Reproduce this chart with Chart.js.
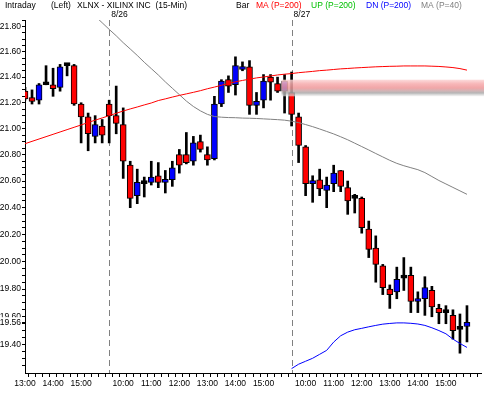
<!DOCTYPE html>
<html>
<head>
<meta charset="utf-8">
<script src="https://cdn.jsdelivr.net/npm/chart.js@4.4.1/dist/chart.umd.min.js"></script>
<style>
  html, body { margin: 0; padding: 0; background: #fff; }
  #wrap { position: relative; width: 484px; height: 393px; }
</style>
</head>
<body>
<div id="wrap"><canvas id="chart" width="484" height="393"></canvas></div>
<script>
(function () {
  'use strict';

  // 15-min bars, 8/25 13:00 .. 8/27 15:45
  var TIMES = [
    '13:00', '13:15', '13:30', '13:45', '14:00', '14:15', '14:30', '14:45', '15:00', '15:15', '15:30', '15:45',
    '9:30', '9:45', '10:00', '10:15', '10:30', '10:45', '11:00', '11:15', '11:30', '11:45', '12:00', '12:15', '12:30',
    '12:45', '13:00', '13:15', '13:30', '13:45', '14:00', '14:15', '14:30', '14:45', '15:00', '15:15', '15:30', '15:45',
    '9:30', '9:45', '10:00', '10:15', '10:30', '10:45', '11:00', '11:15', '11:30', '11:45', '12:00', '12:15', '12:30',
    '12:45', '13:00', '13:15', '13:30', '13:45', '14:00', '14:15', '14:30', '14:45', '15:00', '15:15', '15:30', '15:45'
  ];

  var OPEN = [
    21.29, 21.24, 21.22, 21.34, 21.34, 21.32, 21.49, 21.49, 21.19, 21.09, 20.94, 21.02,
    21.19, 21.10, 21.03, 20.72, 20.49, 20.58, 20.59, 20.64, 20.59, 20.61, 20.80, 20.80, 20.75,
    20.90, 20.80, 20.77, 21.19, 21.38, 21.34, 21.46, 21.48, 21.18, 21.22, 21.40, 21.35, 21.29,
    21.28, 21.09, 20.86, 20.58, 20.61, 20.53, 20.58, 20.68, 20.55, 20.47, 20.47, 20.24, 20.10,
    19.97, 19.80, 19.78, 19.88, 19.90, 19.71, 19.73, 19.79, 19.66, 19.63, 19.61, 19.51, 19.53
  ];
  var HIGH = [
    21.32, 21.30, 21.35, 21.49, 21.47, 21.50, 21.50, 21.50, 21.20, 21.12, 21.10, 21.07,
    21.22, 21.33, 21.16, 20.75, 20.69, 20.63, 20.75, 20.74, 20.68, 20.75, 20.84, 20.97, 20.94,
    20.95, 20.86, 21.25, 21.38, 21.41, 21.56, 21.52, 21.53, 21.28, 21.42, 21.42, 21.40, 21.42,
    21.44, 21.12, 20.87, 20.64, 20.69, 20.63, 20.72, 20.68, 20.60, 20.50, 20.48, 20.30, 20.19,
    19.98, 19.83, 19.96, 20.03, 19.96, 19.78, 19.89, 19.82, 19.69, 19.68, 19.65, 19.62, 19.68
  ];
  var LOW = [
    21.22, 21.19, 21.19, 21.34, 21.25, 21.29, 21.41, 21.18, 20.89, 20.83, 20.89, 20.89,
    20.89, 20.96, 20.62, 20.40, 20.43, 20.48, 20.57, 20.55, 20.51, 20.56, 20.66, 20.73, 20.72,
    20.82, 20.72, 20.76, 21.17, 21.28, 21.26, 21.45, 21.11, 21.11, 21.16, 21.22, 21.28, 21.12,
    21.02, 20.74, 20.49, 20.44, 20.49, 20.40, 20.52, 20.52, 20.35, 20.36, 20.21, 20.03, 19.85,
    19.76, 19.66, 19.73, 19.79, 19.63, 19.63, 19.61, 19.60, 19.55, 19.55, 19.44, 19.34, 19.42
  ];
  var CLOSE = [
    21.23, 21.21, 21.34, 21.34, 21.31, 21.48, 21.49, 21.19, 21.09, 20.96, 21.03, 20.95,
    21.10, 21.04, 20.75, 20.47, 20.59, 20.58, 20.63, 20.59, 20.61, 20.70, 20.72, 20.74, 20.89,
    20.84, 20.76, 21.19, 21.37, 21.33, 21.49, 21.48, 21.18, 21.21, 21.37, 21.36, 21.29, 21.37,
    21.11, 20.87, 20.58, 20.60, 20.54, 20.57, 20.66, 20.56, 20.45, 20.47, 20.25, 20.09, 19.98,
    19.81, 19.76, 19.87, 19.88, 19.71, 19.73, 19.81, 19.67, 19.63, 19.63, 19.50, 19.51, 19.56
  ];

  // MA (P=200), red
  var MA200 = [
    20.884, 20.902, 20.920, 20.938, 20.956, 20.974, 20.992, 21.010, 21.028, 21.047, 21.065, 21.082,
    21.100, 21.118, 21.136, 21.152, 21.167, 21.183, 21.198, 21.217, 21.230, 21.244, 21.257, 21.269, 21.281,
    21.294, 21.309, 21.322, 21.336, 21.351, 21.363, 21.374, 21.384, 21.394, 21.401, 21.409, 21.417, 21.423,
    21.428, 21.435, 21.440, 21.445, 21.451, 21.455, 21.460, 21.465, 21.468, 21.472, 21.475, 21.478, 21.481,
    21.483, 21.485, 21.486, 21.488, 21.488, 21.488, 21.488, 21.486, 21.484, 21.480, 21.475, 21.467, 21.455
  ];
  // MA (P=40), gray
  var MA40 = [
    null, null, null, null, null, null, null, null, null, null, 21.884, 21.831,
    21.778, 21.727, 21.672, 21.622, 21.571, 21.517, 21.467, 21.417, 21.363, 21.313, 21.263, 21.213, 21.171,
    21.137, 21.110, 21.093, 21.088, 21.085, 21.084, 21.081, 21.080, 21.078, 21.075, 21.072, 21.069, 21.065,
    21.057, 21.046, 21.031, 21.015, 20.997, 20.978, 20.959, 20.937, 20.914, 20.888, 20.862, 20.836, 20.809,
    20.783, 20.757, 20.734, 20.716, 20.701, 20.686, 20.664, 20.634, 20.604, 20.578, 20.552, 20.526, 20.500
  ];
  // DN (P=200), blue
  var DN200 = [
    null, null, null, null, null, null, null, null, null, null, null, null,
    null, null, null, null, null, null, null, null, null, null, null, null, null,
    null, null, null, null, null, null, null, null, null, null, null, null, null,
    19.231, 19.262, 19.283, 19.304, 19.332, 19.360, 19.419, 19.464, 19.490, 19.507, 19.517, 19.528, 19.538,
    19.547, 19.552, 19.556, 19.556, 19.553, 19.548, 19.538, 19.521, 19.501, 19.478, 19.440, 19.409, 19.381
  ];

  var Y_LABELS = [21.80, 21.60, 21.40, 21.20, 21.00, 20.80, 20.60, 20.40, 20.20, 20.00, 19.80, 19.60, 19.40];
  var LAST_PRICE = 19.56;
  var Y_MIN = 19.245, Y_MAX = 21.853;

  var DAY_STARTS = [12, 38];
  var DAY_LABELS = ['8/26', '8/27'];

  var ZONE_FROM = 37;
  var ZONE_LOW = 21.25, ZONE_HIGH = 21.38;

  var TITLE_PARTS = [
    { text: 'Intraday', color: '#000000', x: 5 },
    { text: '(Left)', color: '#000000', x: 51 },
    { text: 'XLNX - XILINX INC  (15-Min)', color: '#000000', x: 77 },
    { text: 'Bar', color: '#000000', x: 236 },
    { text: 'MA (P=200)', color: '#ff0000', x: 256 },
    { text: 'UP (P=200)', color: '#00c000', x: 311 },
    { text: 'DN (P=200)', color: '#0000ff', x: 366 },
    { text: 'MA (P=40)', color: '#808080', x: 421 }
  ];

  var FONT = '"Liberation Sans", Arial, sans-serif';

  function bodyColor(i) {
    if (OPEN[i] === CLOSE[i]) return '#000000';
    return CLOSE[i] > OPEN[i] ? '#0000ff' : '#ff0000';
  }

  var labels = TIMES.concat(['', '']);
  var bodies = [], wicks = [], bodyColors = [];
  for (var i = 0; i < TIMES.length; i++) {
    bodies.push([OPEN[i], CLOSE[i]]);
    wicks.push([LOW[i], HIGH[i]]);
    bodyColors.push(bodyColor(i));
  }

  var minorTicks = [];
  for (var t = 1925; t <= 2185; t += 5) minorTicks.push(t / 100);

  function isLabelTick(v) {
    if (Math.abs(v - LAST_PRICE) < 1e-6) return true;
    for (var k = 0; k < Y_LABELS.length; k++) {
      if (Math.abs(v - Y_LABELS[k]) < 1e-6) return true;
    }
    return false;
  }

  var overlayPlugin = {
    id: 'overlay',
    beforeDatasetsDraw: function (chart) {
      var ctx = chart.ctx, xs = chart.scales.x, area = chart.chartArea;
      ctx.save();
      ctx.strokeStyle = '#808080';
      ctx.lineWidth = 1;
      ctx.setLineDash([6, 4]);
      DAY_STARTS.forEach(function (idx) {
        var x = Math.round(xs.getPixelForValue(idx)) + 0.5;
        ctx.beginPath();
        ctx.moveTo(x, area.top);
        ctx.lineTo(x, area.bottom);
        ctx.stroke();
      });
      ctx.restore();
    },
    afterDatasetsDraw: function (chart) {
      var ctx = chart.ctx, xs = chart.scales.x, ys = chart.scales.y;
      var x0 = xs.getPixelForValue(ZONE_FROM) - 3;
      var yTop = ys.getPixelForValue(ZONE_HIGH);
      var yBot = ys.getPixelForValue(ZONE_LOW);
      var g = ctx.createLinearGradient(0, yTop, 0, yBot);
      g.addColorStop(0, 'rgba(251,214,214,0.85)');
      g.addColorStop(0.25, 'rgba(246,170,172,0.85)');
      g.addColorStop(0.5, 'rgba(238,150,152,0.85)');
      g.addColorStop(0.68, 'rgba(200,168,170,0.85)');
      g.addColorStop(0.8, 'rgba(168,168,168,0.85)');
      g.addColorStop(1, 'rgba(240,240,240,0.6)');
      ctx.save();
      ctx.fillStyle = g;
      ctx.fillRect(x0, yTop, chart.width - x0, yBot - yTop);
      ctx.restore();
    },
    afterDraw: function (chart) {
      var ctx = chart.ctx, xs = chart.scales.x;
      ctx.save();
      ctx.font = '8.5px ' + FONT;
      ctx.textBaseline = 'middle';
      ctx.textAlign = 'left';
      TITLE_PARTS.forEach(function (p) {
        ctx.fillStyle = p.color;
        ctx.fillText(p.text, p.x, 5.5);
      });
      ctx.fillStyle = '#000000';
      DAY_STARTS.forEach(function (idx, k) {
        ctx.fillText(DAY_LABELS[k], xs.getPixelForValue(idx) + 2, 15);
      });
      ctx.restore();
    }
  };

  new Chart(document.getElementById('chart'), {
    type: 'bar',
    data: {
      labels: labels,
      datasets: [
        { type: 'line', data: MA200, borderColor: '#ff0000', borderWidth: 1, pointRadius: 0, tension: 0, order: 0 },
        { type: 'line', data: MA40, borderColor: '#808080', borderWidth: 1, pointRadius: 0, tension: 0, order: 0 },
        { type: 'line', data: DN200, borderColor: '#0000ff', borderWidth: 1, pointRadius: 0, tension: 0, order: 0 },
        {
          data: bodies, backgroundColor: bodyColors, borderColor: '#000000', borderWidth: 1,
          borderSkipped: false, barThickness: 6, minBarLength: 3, grouped: false, order: 2
        },
        { data: wicks, backgroundColor: '#000000', borderWidth: 0, barThickness: 2, grouped: false, order: 3 }
      ]
    },
    options: {
      responsive: false,
      animation: false,
      events: [],
      layout: { padding: { top: 20, right: 3, left: 0, bottom: 0 } },
      plugins: { legend: { display: false }, tooltip: { enabled: false }, title: { display: false } },
      scales: {
        x: {
          type: 'category',
          offset: false,
          border: { display: true, color: '#000000', width: 1 },
          grid: { display: true, drawOnChartArea: false, drawTicks: true, tickLength: 4, color: '#000000' },
          ticks: {
            autoSkip: false, maxRotation: 0, minRotation: 0, padding: 2, color: '#000000',
            font: { family: FONT, size: 8.5 },
            callback: function (val, idx) {
              var s = labels[idx];
              return s && s.slice(-3) === ':00' ? s : '';
            }
          },
          afterFit: function (s) { s.height = 20; }
        },
        y: {
          type: 'logarithmic',
          min: Y_MIN,
          max: Y_MAX,
          border: { display: true, color: '#000000', width: 1 },
          grid: { display: true, drawOnChartArea: false, drawTicks: true, tickLength: 3, color: '#000000' },
          afterBuildTicks: function (s) {
            s.ticks = minorTicks.concat([LAST_PRICE]).map(function (v) { return { value: v }; });
          },
          ticks: {
            autoSkip: false, padding: 1, color: '#000000',
            font: { family: FONT, size: 8.5 },
            showLabelBackdrop: function (c) { return !!(c.tick && c.tick.value === LAST_PRICE); },
            backdropColor: '#ffffff',
            backdropPadding: { top: 0, bottom: 0, left: 1, right: 1 },
            callback: function (v) { return isLabelTick(v) ? Number(v).toFixed(2) : ''; }
          },
          afterFit: function (s) { s.width = 25; }
        }
      }
    },
    plugins: [overlayPlugin]
  });
})();
</script>
</body>
</html>
